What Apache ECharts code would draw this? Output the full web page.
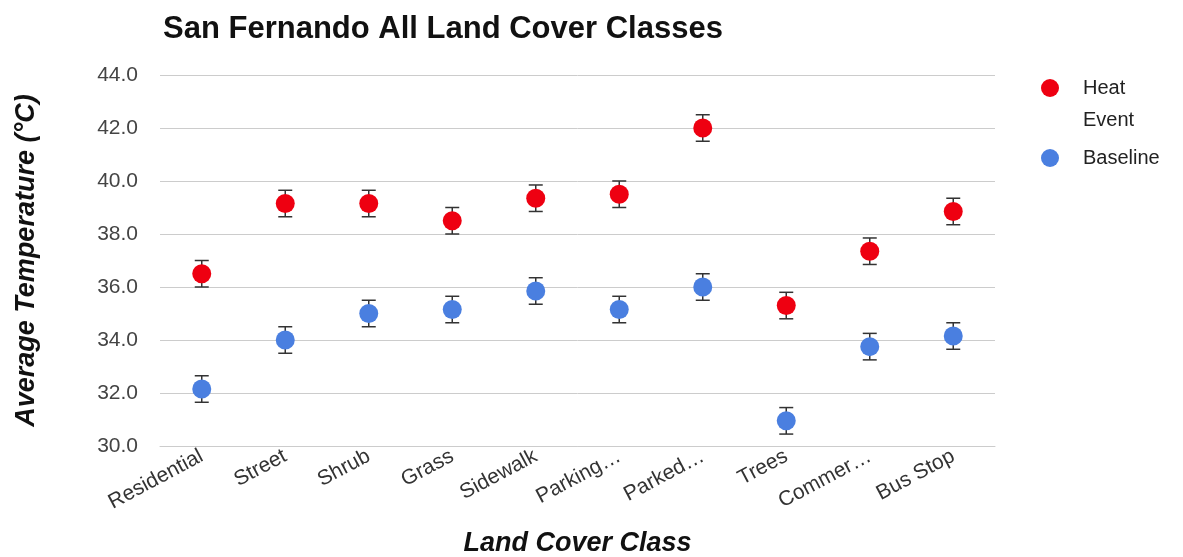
<!DOCTYPE html>
<html>
<head>
<meta charset="utf-8">
<script src="https://cdn.jsdelivr.net/npm/echarts@6/dist/echarts.min.js"></script>
<style>
  html, body { margin: 0; padding: 0; background: #fff; }
  #chart { width: 1183px; height: 557px; }
</style>
</head>
<body>
<div id="chart"></div>
<script>
var categories = ['Residential', 'Street', 'Shrub', 'Grass', 'Sidewalk', 'Parking…', 'Parked…', 'Trees', 'Commer…', 'Bus Stop'];
var heatEvent = [36.5, 39.15, 39.15, 38.5, 39.35, 39.5, 42.0, 35.3, 37.35, 38.85];
var baseline = [32.15, 34.0, 35.0, 35.15, 35.85, 35.15, 36.0, 30.95, 33.75, 34.15];
var heatErr = [0.5, 0.5, 0.5, 0.5, 0.5, 0.5, 0.5, 0.5, 0.5, 0.5];
var baseErr = [0.5, 0.5, 0.5, 0.5, 0.5, 0.5, 0.5, 0.5, 0.5, 0.5];
var yTicks = { min: 30, max: 44, interval: 2 };

var font = 'Liberation Sans, Arial, sans-serif';

function errData(vals, errs) {
  return vals.map(function (v, i) { return [i, v - errs[i], v + errs[i]]; });
}

function errorBar(params, api) {
  var x = api.value(0);
  var lo = api.coord([x, api.value(1)]);
  var hi = api.coord([x, api.value(2)]);
  var w = 7;
  var style = { stroke: '#333', lineWidth: 1.5 };
  return {
    type: 'group',
    children: [
      { type: 'line', shape: { x1: lo[0], y1: lo[1], x2: hi[0], y2: hi[1] }, style: style },
      { type: 'line', shape: { x1: lo[0] - w, y1: lo[1], x2: lo[0] + w, y2: lo[1] }, style: style },
      { type: 'line', shape: { x1: hi[0] - w, y1: hi[1], x2: hi[0] + w, y2: hi[1] }, style: style }
    ]
  };
}

var legendText = { fontFamily: font, fontSize: 20, color: '#222', lineHeight: 32 };

var myChart = echarts.init(document.getElementById('chart'));
var option = {
  backgroundColor: '#fff',
  animation: false,
  textStyle: { fontFamily: font },
  title: {
    text: 'San Fernando All Land Cover Classes',
    left: 158,
    top: 9,
    textStyle: { fontFamily: font, fontSize: 31, fontWeight: 'bold', color: '#111' }
  },
  legend: [
    {
      // blank first line keeps the marker level with "Heat"
      orient: 'vertical',
      left: 1041,
      top: 40,
      padding: 0,
      itemWidth: 56,
      itemHeight: 18,
      data: ['Heat Event'],
      formatter: function () { return ' \nHeat\nEvent'; },
      textStyle: legendText
    },
    {
      orient: 'vertical',
      left: 1041,
      top: 142,
      padding: 0,
      itemWidth: 56,
      itemHeight: 18,
      data: ['Baseline'],
      textStyle: legendText
    }
  ],
  grid: { left: 160, right: 188, top: 75, bottom: 111, outerBoundsMode: 'none' },
  xAxis: {
    type: 'category',
    data: categories,
    name: 'Land Cover Class',
    nameLocation: 'middle',
    nameGap: 84,
    nameTextStyle: { fontFamily: font, fontSize: 27, fontWeight: 'bold', fontStyle: 'italic', color: '#111' },
    axisLine: { lineStyle: { color: '#ccc' } },
    axisTick: { show: false },
    axisLabel: { rotate: 28, fontSize: 21, color: '#333', margin: 9, fontFamily: font }
  },
  yAxis: {
    type: 'value',
    min: yTicks.min,
    max: yTicks.max,
    interval: yTicks.interval,
    name: 'Average Temperature (°C)',
    nameLocation: 'middle',
    nameGap: 120,
    nameTextStyle: { fontFamily: font, fontSize: 27, fontWeight: 'bold', fontStyle: 'italic', color: '#111' },
    axisLine: { show: false },
    axisTick: { show: false },
    splitLine: { lineStyle: { color: '#ccc' } },
    axisLabel: {
      fontSize: 21, color: '#444', margin: 22, fontFamily: font,
      formatter: function (v) { return v.toFixed(1); }
    }
  },
  series: [
    {
      type: 'custom',
      renderItem: errorBar,
      data: errData(heatEvent, heatErr),
      encode: { x: 0, y: [1, 2] },
      z: 1,
      silent: true
    },
    {
      type: 'custom',
      renderItem: errorBar,
      data: errData(baseline, baseErr),
      encode: { x: 0, y: [1, 2] },
      z: 1,
      silent: true
    },
    {
      name: 'Heat Event',
      type: 'scatter',
      data: heatEvent,
      symbol: 'circle',
      symbolSize: 19,
      itemStyle: { color: '#ee0011', opacity: 1 },
      z: 3
    },
    {
      name: 'Baseline',
      type: 'scatter',
      data: baseline,
      symbol: 'circle',
      symbolSize: 19,
      itemStyle: { color: '#4a7fe0', opacity: 1 },
      z: 3
    }
  ]
};
myChart.setOption(option);
window.addEventListener('resize', function () { myChart.resize(); });
</script>
</body>
</html>
